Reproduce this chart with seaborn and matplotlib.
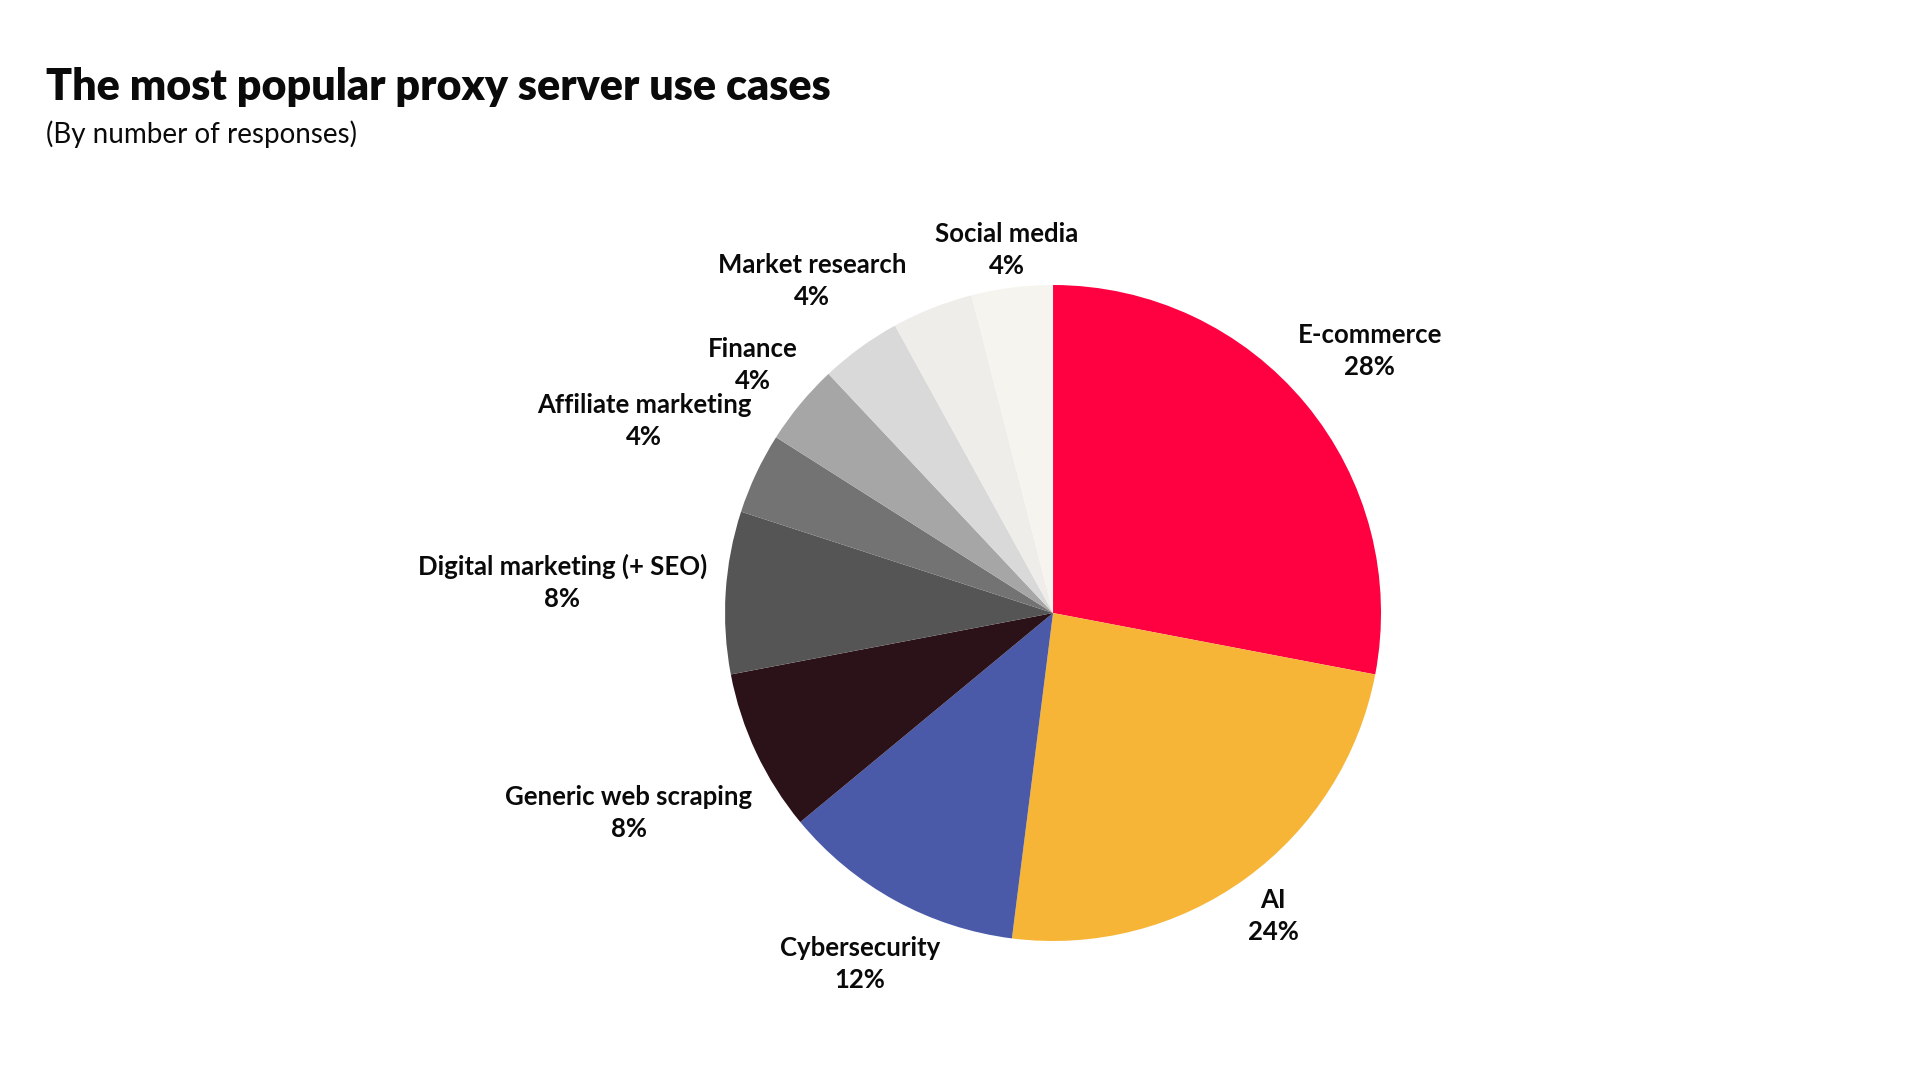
import numpy as np
import seaborn as sns
import matplotlib.pyplot as plt

# data (one 4% slice carries no label there)
use_cases = ["E-commerce", "AI", "Cybersecurity", "Generic web scraping",
             "Digital marketing (+ SEO)", "Affiliate marketing", "Finance",
             "Market research", "", "Social media"]
shares = [28, 24, 12, 8, 8, 4, 4, 4, 4, 4]
slice_colors = ["#FF0040", "#F7B538", "#4A5AA8", "#2A1218", "#555555",
                "#737373", "#A6A6A6", "#D9D9D9", "#EEEDE9", "#F5F4EF"]
# radial distance of each label block (in pie radii)
label_dist = [1.253, 1.143, 1.22, 1.43, 1.499, 1.377, 1.188, 1.25, 1.2, 1.117]

sns.set_theme(style="white")
plt.rcParams['font.family'] = ['Lato', 'DejaVu Sans']

fig = plt.figure(figsize=(19.2, 10.8), dpi=100)
fig.patch.set_facecolor("white")

# pie axes placed so the circle is centred where the reference has it
ax = fig.add_axes([0.3776, 0.1287, 0.3417, 0.6074])
wedges, _ = ax.pie(shares, colors=slice_colors, startangle=90,
                   counterclock=False, radius=1,
                   wedgeprops={"linewidth": 0})
ax.set_xlim(-1, 1)
ax.set_ylim(-1, 1)
ax.set_aspect("equal")
ax.axis("off")

# labels at the middle angle of each wedge
for w, name, val, d in zip(wedges, use_cases, shares, label_dist):
    if not name:
        continue
    ang = np.deg2rad((w.theta1 + w.theta2) / 2)
    ax.text(d * np.cos(ang), d * np.sin(ang), f"{name}\n{val}%",
            ha="center", va="center", fontsize=18.5, fontweight="bold",
            color="#0a0a0a", linespacing=1.4, clip_on=False)

fig.text(0.0242, 0.9074, "The most popular proxy server use cases",
         fontsize=31, fontweight="heavy", color="#0a0a0a", va="baseline")
fig.text(0.0242, 0.868, "(By number of responses)",
         fontsize=20, color="#0a0a0a", va="baseline")

fig.savefig("out.png", dpi=100, facecolor="white")
